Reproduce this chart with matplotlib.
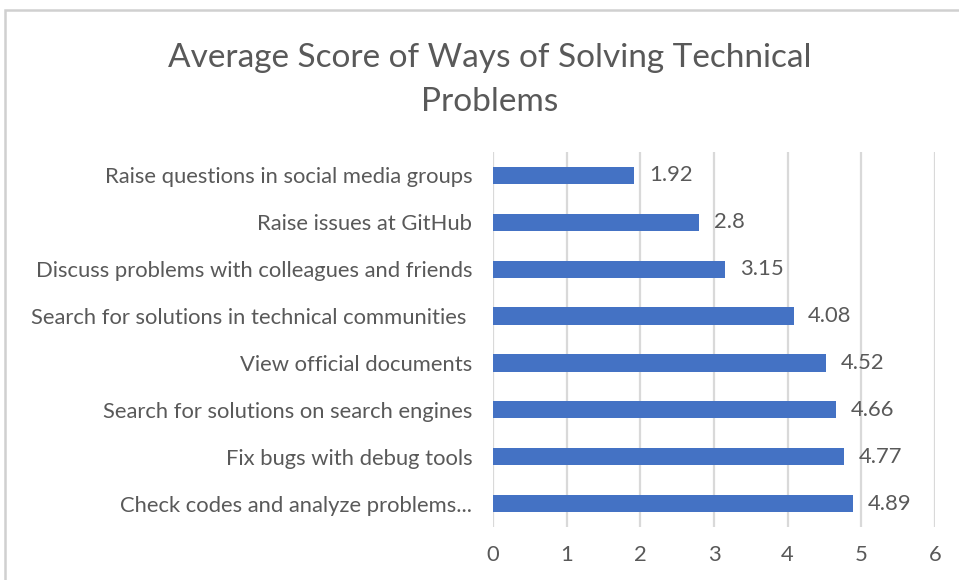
import matplotlib.pyplot as plt
from matplotlib.patches import Rectangle

categories = [
    "Check codes and analyze problems...",
    "Fix bugs with debug tools",
    "Search for solutions on search engines",
    "View official documents",
    "Search for solutions in technical communities ",
    "Discuss problems with colleagues and friends",
    "Raise issues at GitHub",
    "Raise questions in social media groups",
]
scores = [4.89, 4.77, 4.66, 4.52, 4.08, 3.15, 2.8, 1.92]
score_labels = ["4.89", "4.77", "4.66", "4.52", "4.08", "3.15", "2.8", "1.92"]
x_ticks = [0, 1, 2, 3, 4, 5, 6]

text_color = "#595959"
font = "Lato"
fs = 15.8

fig = plt.figure(figsize=(9.59, 5.8), dpi=100)
ax = fig.add_axes([493 / 959, 1 - 527 / 580, (935 - 493) / 959, (527 - 152) / 580])

y = range(len(categories))
ax.barh(y, scores, height=0.37, color="#4472c4", zorder=3)
for yi, v, lab in zip(y, scores, score_labels):
    ax.text(v + 0.2, yi, lab, va="center", ha="left", fontsize=fs,
            color=text_color, family=font)

ax.set_xlim(0, 6)
ax.set_ylim(-0.5, len(categories) - 0.5)
ax.set_xticks(x_ticks)
ax.set_xticklabels([str(t) for t in x_ticks], fontsize=fs, color=text_color, family=font)
ax.set_yticks(list(y))
ax.set_yticklabels(categories, fontsize=fs, color=text_color, family=font)
ax.tick_params(axis="both", length=0)
ax.tick_params(axis="y", pad=15)
ax.tick_params(axis="x", pad=13)
ax.grid(axis="x", color="#d9d9d9", linewidth=1.6, zorder=0)
for s in ax.spines.values():
    s.set_visible(False)

fig.text(490 / 959, 1 - 80 / 580, "Average Score of Ways of Solving Technical\nProblems",
         ha="center", va="center", fontsize=24, color=text_color, family=font,
         linespacing=1.6)

# outer chart border (cropped on right and bottom)
fig.patches.append(Rectangle((5 / 959, -0.1), 1.1, 1 - 10 / 580 + 0.1,
                             transform=fig.transFigure, fill=False,
                             edgecolor="#d0d0d0", linewidth=1.8))

fig.savefig("out.png", dpi=100)
